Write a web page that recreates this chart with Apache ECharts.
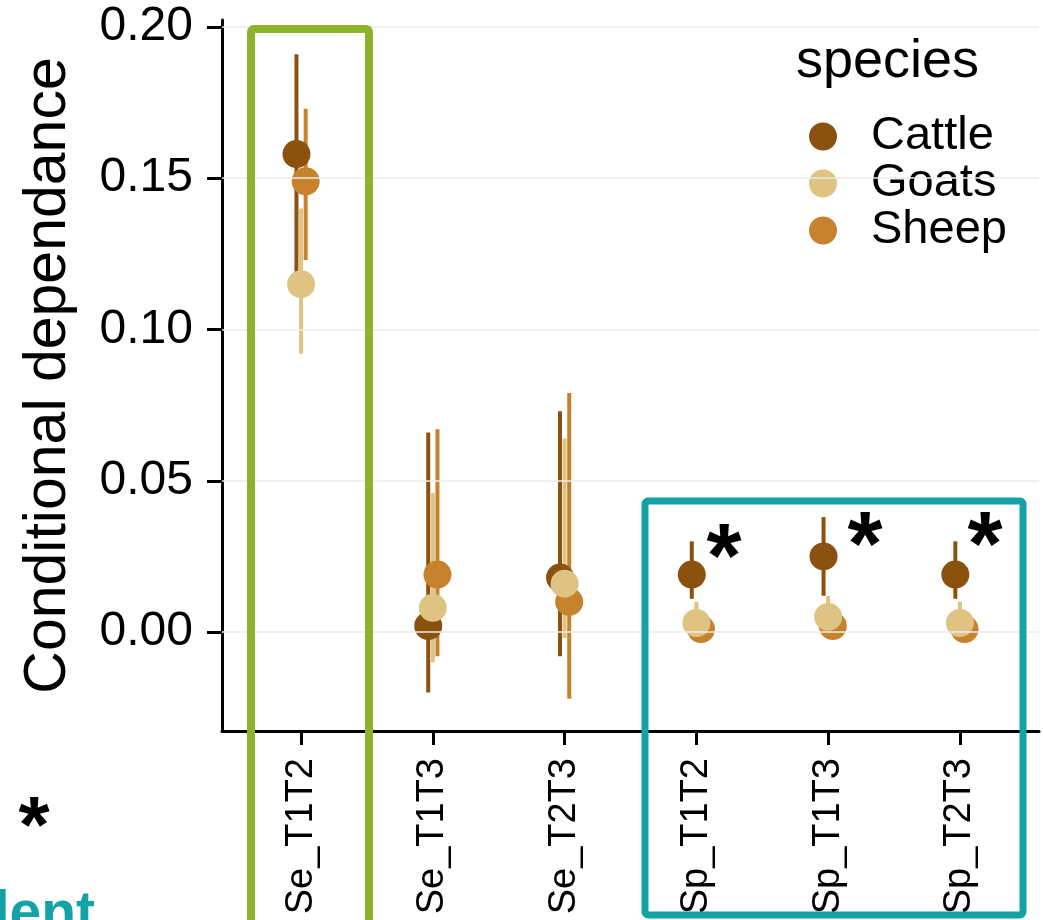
<!DOCTYPE html>
<html>
<head>
<meta charset="utf-8">
<title>Conditional dependance</title>
<script src="https://cdn.jsdelivr.net/npm/echarts@6/dist/echarts.min.js"></script>
<style>
  html, body { margin: 0; padding: 0; background: #fff; }
  #main { width: 1043px; height: 920px; }
</style>
</head>
<body>
<div id="main"></div>
<script>
// categories on the x axis
const categories = ['Se_T1T2', 'Se_T1T3', 'Se_T2T3', 'Sp_T1T2', 'Sp_T1T3', 'Sp_T2T3'];
const speciesNames = ['Cattle', 'Goats', 'Sheep'];
const yTicks = [0, 0.05, 0.10, 0.15, 0.20];

// point estimates and interval ends
const cattleMean = [0.158, 0.002, 0.018, 0.019, 0.025, 0.019];
const cattleLow  = [0.119, -0.020, -0.008, 0.011, 0.012, 0.011];
const cattleHigh = [0.191, 0.066, 0.073, 0.030, 0.038, 0.030];

const goatsMean = [0.115, 0.008, 0.016, 0.003, 0.005, 0.003];
const goatsLow  = [0.092, -0.010, -0.002, 0.000, 0.001, 0.000];
const goatsHigh = [0.140, 0.046, 0.064, 0.010, 0.012, 0.010];

const sheepMean = [0.149, 0.019, 0.010, 0.001, 0.002, 0.001];
const sheepLow  = [0.123, -0.008, -0.022, -0.001, 0.000, -0.001];
const sheepHigh = [0.173, 0.067, 0.079, 0.004, 0.005, 0.004];

// significance stars: category position and height
const starX = [3.21, 4.28, 5.19];
const starY = [0.029, 0.033, 0.033];

const colors = ['#8b520f', '#dfc383', '#c6822c'];
const dodge = [-0.035, 0, 0.035];
const FONT = '"Liberation Sans", Arial, Helvetica, sans-serif';

const means = [cattleMean, goatsMean, sheepMean];
const lows = [cattleLow, goatsLow, sheepLow];
const highs = [cattleHigh, goatsHigh, sheepHigh];

const chart = echarts.init(document.getElementById('main'));

const series = [];

// light horizontal grid lines
series.push({
    name: 'grid',
    type: 'scatter',
    data: [],
    z: 0,
    silent: true,
    markLine: {
        silent: true,
        symbol: 'none',
        label: { show: false },
        lineStyle: { color: '#ebebeb', width: 1.5, type: 'solid' },
        data: yTicks.map(v => ({ yAxis: v }))
    }
});

// error bars (drawn under the points)
speciesNames.forEach((s, k) => {
    series.push({
        name: s + ' range',
        type: 'custom',
        z: 2,
        silent: true,
        encode: { x: 0, y: [1, 2] },
        data: categories.map((c, i) => [i + dodge[k], lows[k][i], highs[k][i]]),
        renderItem: function (params, api) {
            const p1 = api.coord([api.value(0), api.value(1)]);
            const p2 = api.coord([api.value(0), api.value(2)]);
            return {
                type: 'line',
                shape: { x1: p1[0], y1: p1[1], x2: p2[0], y2: p2[1] },
                style: { stroke: colors[k], lineWidth: 4 }
            };
        }
    });
});

// points
[0, 2, 1].forEach(k => {
    series.push({
        name: speciesNames[k],
        type: 'scatter',
        z: 3,
        symbol: 'circle',
        symbolSize: 28,
        itemStyle: { color: colors[k], opacity: 1 },
        data: categories.map((c, i) => [i + dodge[k], means[k][i]])
    });
});

// stars
series.push({
    name: 'stars',
    type: 'scatter',
    z: 4,
    silent: true,
    symbolSize: 1,
    itemStyle: { opacity: 0 },
    data: starX.map((x, i) => [x, starY[i]]),
    label: {
        show: true,
        position: 'inside',
        formatter: '*',
        offset: [0, 18],
        color: '#000',
        opacity: 1,
        fontSize: 90,
        fontWeight: 'bold',
        fontFamily: FONT
    }
});

const option = {
    backgroundColor: '#fff',
    animation: false,
    textStyle: { fontFamily: FONT },
    title: {
        text: 'species',
        left: 796,
        top: 35,
        padding: 0,
        textStyle: { fontSize: 54, fontWeight: 'normal', color: '#000', fontFamily: FONT }
    },
    legend: {
        data: speciesNames,
        orient: 'vertical',
        left: 809,
        top: 113,
        padding: 0,
        itemGap: 0,
        itemWidth: 86,
        itemHeight: 28,
        selectedMode: false,
        textStyle: { fontSize: 47, color: '#000', fontFamily: FONT }
    },
    grid: { left: 222, right: 4, top: 20, bottom: 189, containLabel: false, outerBoundsMode: 'none' },
    xAxis: {
        type: 'value',
        min: -0.6,
        max: 5.6,
        axisLine: { show: true, onZero: false, lineStyle: { color: '#000', width: 3 } },
        axisTick: {
            show: true,
            customValues: categories.map((c, i) => i),
            length: 14,
            lineStyle: { color: '#000', width: 3 }
        },
        axisLabel: {
            customValues: categories.map((c, i) => i),
            formatter: v => categories[Math.round(v)],
            rotate: 90,
            margin: 27,
            fontSize: 38,
            color: '#000',
            fontFamily: FONT
        },
        splitLine: { show: false }
    },
    yAxis: {
        type: 'value',
        min: -0.0327,
        max: 0.2023,
        name: 'Conditional dependance',
        nameLocation: 'middle',
        nameRotate: 90,
        nameGap: 144,
        nameTextStyle: { fontSize: 59, color: '#000', fontFamily: FONT },
        axisLine: { show: true, onZero: false, lineStyle: { color: '#000', width: 3 } },
        axisTick: {
            show: true,
            customValues: yTicks,
            length: 15,
            lineStyle: { color: '#000', width: 3 }
        },
        axisLabel: {
            customValues: yTicks,
            formatter: v => v.toFixed(2),
            margin: 29,
            fontSize: 48,
            color: '#000',
            fontFamily: FONT
        },
        splitLine: { show: false }
    },
    graphic: [
        {
            type: 'rect',
            z: 10,
            silent: true,
            shape: { x: 251, y: 29, width: 118, height: 920, r: 3 },
            style: { fill: 'none', stroke: '#8db22b', lineWidth: 8 }
        },
        {
            type: 'rect',
            z: 10,
            silent: true,
            shape: { x: 645, y: 501, width: 378, height: 414, r: 3 },
            style: { fill: 'none', stroke: '#13a2a6', lineWidth: 7 }
        },
        {
            type: 'text',
            z: 10,
            silent: true,
            x: 34,
            y: 830,
            style: {
                text: '*',
                align: 'center',
                verticalAlign: 'middle',
                fontSize: 80,
                fontWeight: 'bold',
                fontFamily: FONT,
                fill: '#000'
            }
        },
        {
            type: 'text',
            z: 10,
            silent: true,
            x: 95,
            y: 915,
            style: {
                text: 'dependent',
                align: 'right',
                verticalAlign: 'middle',
                fontSize: 57,
                fontWeight: 'bold',
                fontFamily: FONT,
                fill: '#13a2a6'
            }
        }
    ],
    series: series
};

chart.setOption(option);
</script>
</body>
</html>
